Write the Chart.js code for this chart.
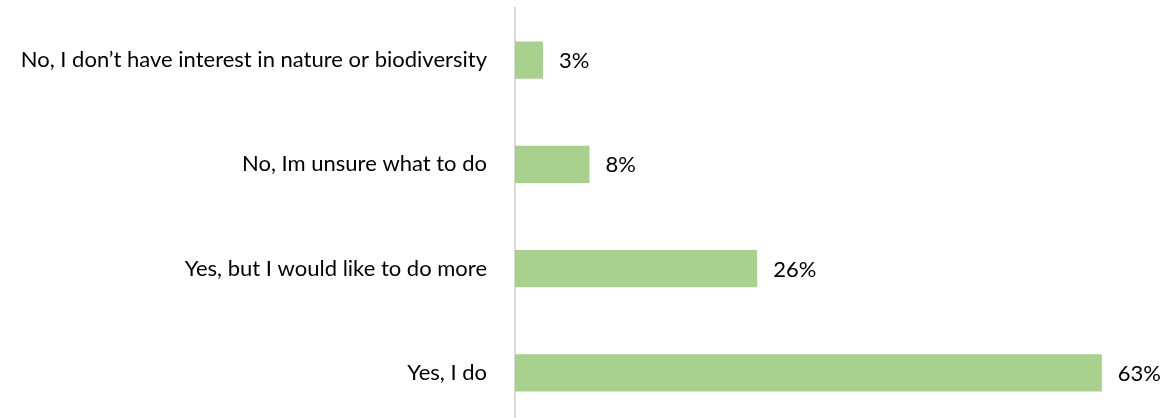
<!DOCTYPE html>
<html>
<head>
<meta charset="utf-8">
<script src="https://cdn.jsdelivr.net/npm/chart.js@4"></script>
<style>
  html, body { margin: 0; padding: 0; background: #fff; overflow: hidden; }
  #wrap { width: 1167px; height: 425px; }
</style>
</head>
<body>
<div id="wrap"><canvas id="answersChart"></canvas></div>
<script>
const CATEGORIES = [
  "No, I don\u2019t have interest in nature or biodiversity",
  "No, Im unsure what to do",
  "Yes, but I would like to do more",
  "Yes, I do",
];
const SHARES = [3, 8, 26, 63];
const BAR_COLOR = "#a9d18e";
const FONT = { family: "Lato", size: 22 };

// draws "NN%" right of each bar
const valueLabels = {
  id: "valueLabels",
  afterDatasetsDraw(chart) {
    const { ctx } = chart;
    const meta = chart.getDatasetMeta(0);
    ctx.save();
    ctx.font = `${FONT.size}px ${FONT.family}`;
    ctx.fillStyle = "#000";
    ctx.textBaseline = "middle";
    meta.data.forEach((bar, i) => {
      ctx.fillText(SHARES[i] + "%", bar.x + 16, bar.y + 1);
    });
    ctx.restore();
  },
};

new Chart(document.getElementById("answersChart"), {
  type: "bar",
  data: {
    labels: CATEGORIES,
    datasets: [{
      data: SHARES,
      backgroundColor: BAR_COLOR,
      barPercentage: 0.355,
      categoryPercentage: 1,
    }],
  },
  options: {
    indexAxis: "y",
    responsive: true,
    maintainAspectRatio: false,
    animation: false,
    layout: { padding: { top: 8, bottom: 0, left: 0, right: 0 } },
    plugins: { legend: { display: false }, tooltip: { enabled: false } },
    scales: {
      x: { display: false, min: 0, max: 70 },
      y: {
        afterFit: s => { s.width = 515; s.paddingTop = 0; s.paddingBottom = 0; },
        grid: { display: false },
        border: { display: true, color: "#d9d9d9", width: 2 },
        ticks: { color: "#000", font: FONT, padding: 20 },
      },
    },
  },
  plugins: [valueLabels],
});
</script>
</body>
</html>
